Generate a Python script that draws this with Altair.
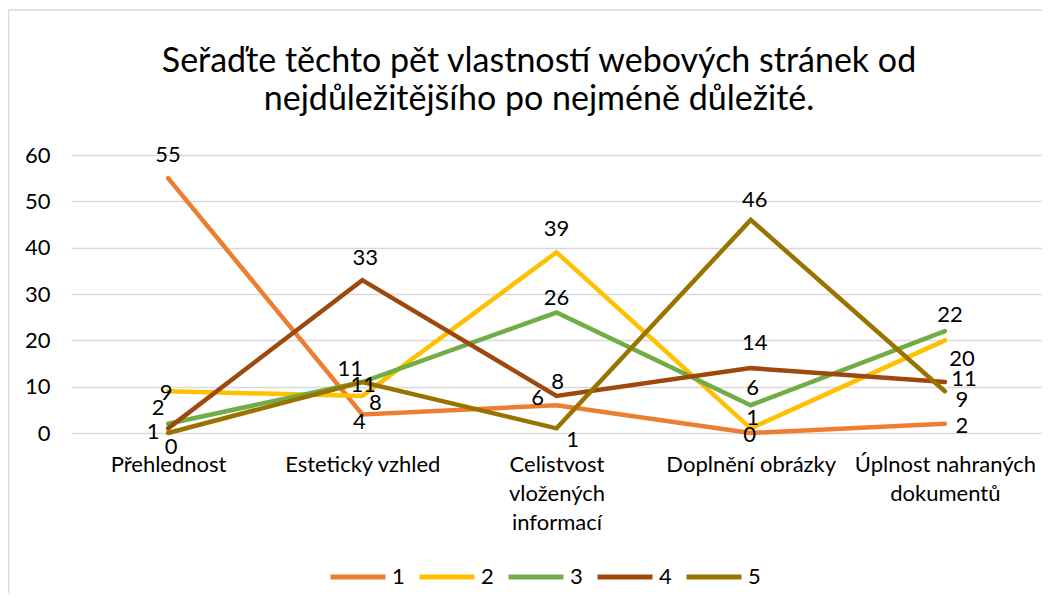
import altair as alt
import pandas as pd

CATEGORIES = ["Přehlednost", "Estetický vzhled", "Celistvost vložených informací",
              "Doplnění obrázky", "Úplnost nahraných dokumentů"]
SERIES = ["1", "2", "3", "4", "5"]
S1 = [55, 4, 6, 0, 2]
S2 = [9, 8, 39, 1, 20]
S3 = [2, 11, 26, 6, 22]
S4 = [1, 33, 8, 14, 11]
S5 = [0, 11, 1, 46, 9]
VALUES = [S1, S2, S3, S4, S5]
COLORS = ["#ED7D31", "#FFC000", "#70AD47", "#9E480E", "#997300"]
TITLE_LINES = ["Seřaďte těchto pět vlastností webových stránek od",
               "nejdůležitějšího po nejméně důležité."]
# label offsets (pixels) relative to each point
LABEL_DX = [[0, -3, -19, -1, 17], [-2, 13, 0, 2, 17], [-10, -12, 0, 2, 5],
            [-15, 3, 1, 4, 19], [3, 1, 16, 4, 17]]
LABEL_DY = [[-23, 8, -7, 2, 2], [2, 7, -23, -10, 19], [-16, -13, -15, -17, -16],
            [4, -22, -14, -25, -3], [14, 3, 12, -20, 9]]

rows = []
for s, name in enumerate(SERIES):
    for i, cat in enumerate(CATEGORIES):
        rows.append({"kat": cat, "rada": name, "hodnota": VALUES[s][i], "ord": i})
df = pd.DataFrame(rows)

FONT = "Lato"
FS = 22
W, H = 971, 278

label_expr = ("datum.label == 'Celistvost vložených informací' ? ['Celistvost','vložených','informací'] : "
              "datum.label == 'Úplnost nahraných dokumentů' ? ['Úplnost nahraných','dokumentů'] : datum.label")

x_enc = alt.X("kat:N", sort=CATEGORIES, title=None,
              scale=alt.Scale(type="point", padding=0.5),
              axis=alt.Axis(labelExpr=label_expr, labelAngle=0, domain=False, ticks=False,
                            grid=False, labelPadding=21, labelFontSize=FS, labelFont=FONT,
                            labelColor="#000000", labelLineHeight=29, labelBaseline="top",
                            labelLimit=0))
y_enc = alt.Y("hodnota:Q", title=None,
              scale=alt.Scale(domain=[0, 60], nice=False),
              axis=alt.Axis(values=[0, 10, 20, 30, 40, 50, 60], domain=False, ticks=False,
                            gridColor="#D9D9D9", gridWidth=1.5, labelPadding=21,
                            labelFontSize=FS, labelFont=FONT, labelColor="#000000"))
color_enc = alt.Color("rada:N", scale=alt.Scale(domain=SERIES, range=COLORS),
                      legend=alt.Legend(title=None, orient="none", direction="horizontal",
                                        legendX=257, legendY=392, symbolType="stroke",
                                        symbolSize=3025, symbolStrokeWidth=5,
                                        labelFontSize=FS, labelFont=FONT, labelColor="#000000",
                                        columnPadding=4, labelOffset=4))

border = alt.Chart(pd.DataFrame({"a": [0]})).mark_rect(
    fill=None, stroke="#D9D9D9", strokeWidth=1.5).encode(
    x=alt.value(-62.5), x2=alt.value(1100), y=alt.value(-145), y2=alt.value(470))

title_layers = []
for k, line in enumerate(TITLE_LINES):
    title_layers.append(
        alt.Chart(pd.DataFrame({"a": [0]})).mark_text(
            text=line, font=FONT, fontSize=34, color="#000000",
            align="center", baseline="middle").encode(
            x=alt.value(468), y=alt.value(-93 + 38 * k)))

lines = alt.Chart(df).mark_line(strokeWidth=4.5, strokeCap="round", strokeJoin="miter").encode(
    x=x_enc, y=y_enc, color=color_enc, order="ord:Q")

label_layers = []
for s, name in enumerate(SERIES):
    for i, cat in enumerate(CATEGORIES):
        label_layers.append(
            alt.Chart(df).transform_filter(
                (alt.datum.rada == name) & (alt.datum.kat == cat)
            ).mark_text(fontSize=FS, font=FONT, color="#000000", align="center",
                        baseline="middle", dx=LABEL_DX[s][i], dy=LABEL_DY[s][i]).encode(
                x=alt.X("kat:N", sort=CATEGORIES),
                y=alt.Y("hodnota:Q"),
                text="hodnota:Q"))

chart = alt.layer(border, *title_layers, lines, *label_layers).properties(
    width=W, height=H,
    autosize=alt.AutoSizeParams(type="none"),
    padding={"left": 63, "top": 147, "right": 0, "bottom": 160},
).configure_view(stroke=None)

chart.save("out.html", embed_options={"renderer": "svg", "actions": False})
